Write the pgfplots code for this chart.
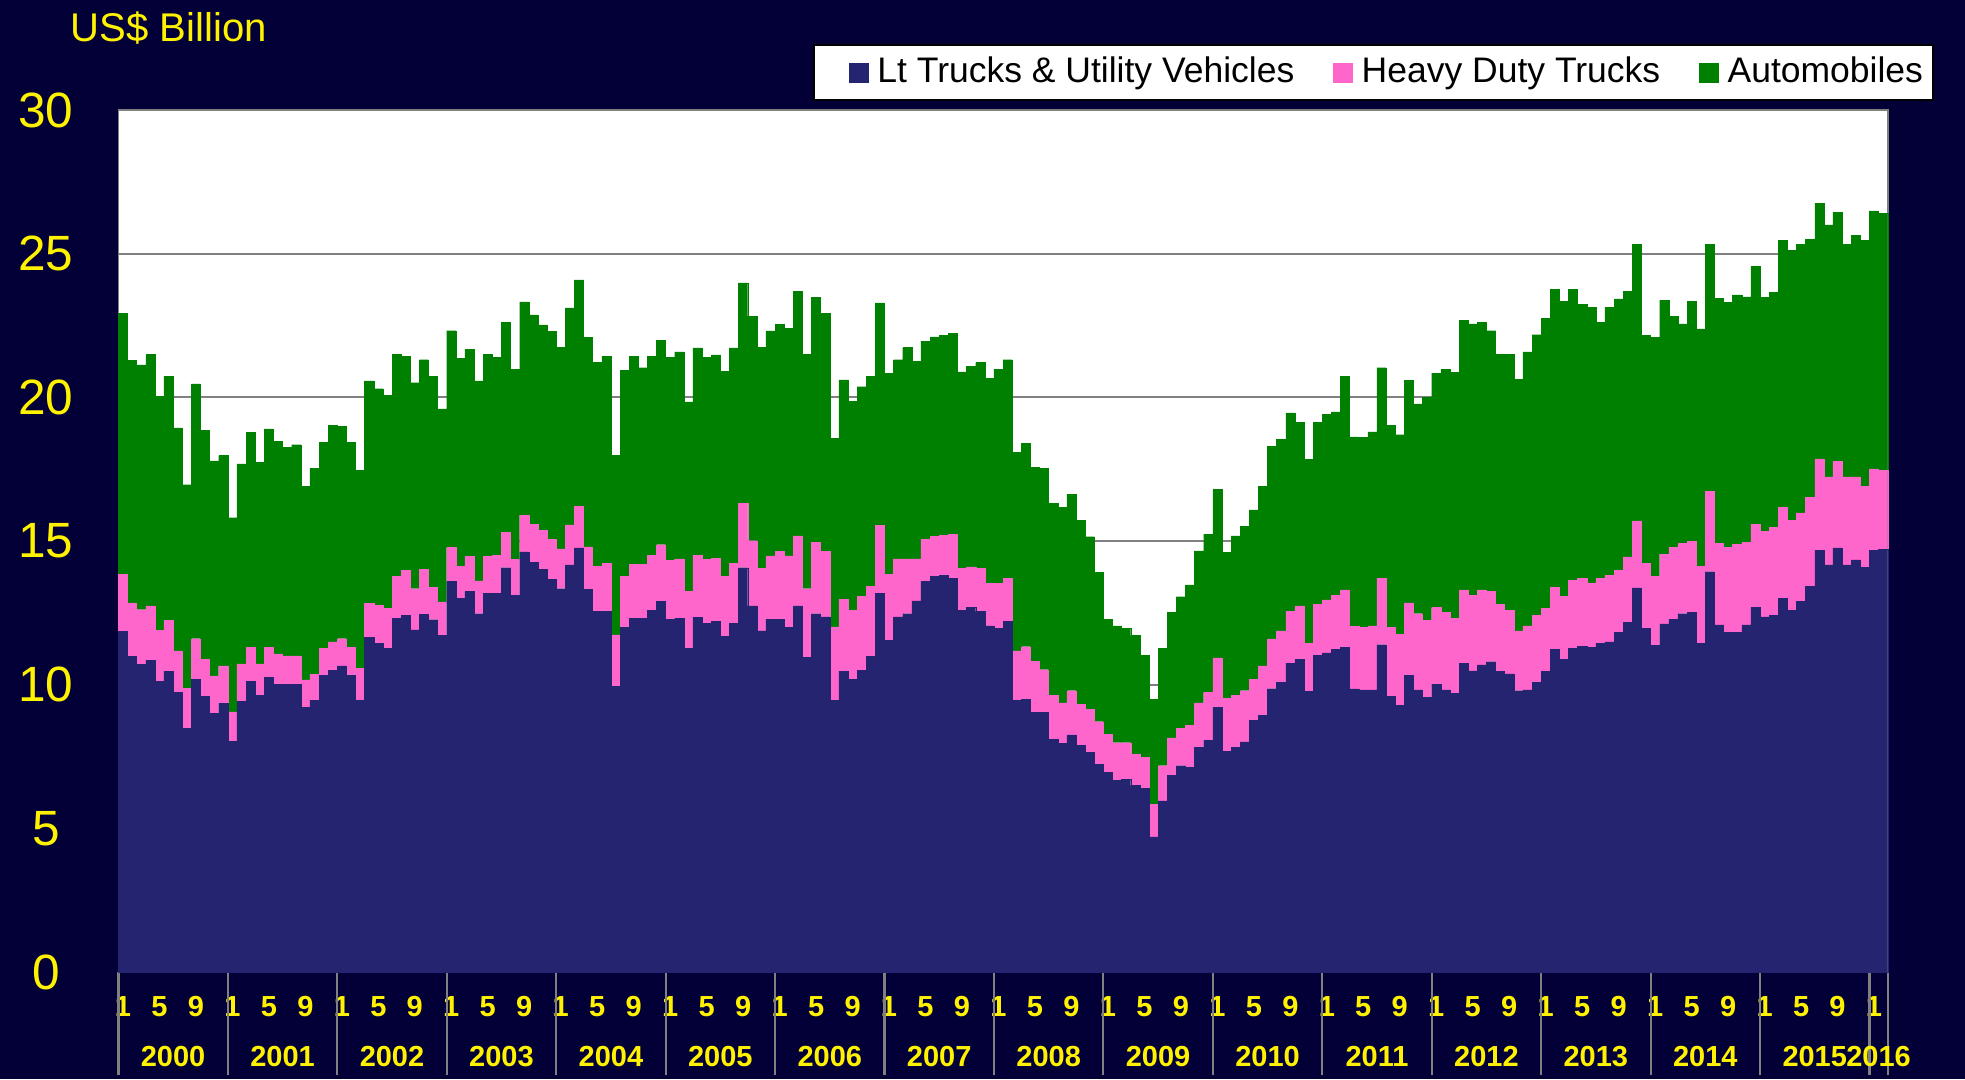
\documentclass[border=0pt]{standalone}
\usepackage{fontspec}
\setmainfont{Liberation Sans}
\usepackage{pgfplots}
\pgfplotsset{compat=1.18}
\usepackage{pgfplotstable}
\definecolor{bg}{RGB}{3,0,56}
\definecolor{ltnavy}{RGB}{36,36,112}
\definecolor{hdpink}{RGB}{255,102,204}
\definecolor{autogreen}{RGB}{0,128,0}
\definecolor{gridgray}{RGB}{128,128,128}
\pgfplotsset{mylegend/.style={legend image code/.code={\fill[##1] (0mm,-0.95mm) rectangle (1.9mm,0.95mm);}},
  myfirstlegend/.style={legend image code/.code={\path (0mm,0mm); \fill[##1] (3.2mm,-0.95mm) rectangle (5.1mm,0.95mm);}}}

% m = month index (0 = Jan 2000), lt = Lt Trucks & Utility Vehicles, hd = Heavy Duty Trucks, au = Automobiles (US$ bn)
\pgfplotstableread{
m lt hd au
0 11.85 1.99 9.08
1 10.98 1.87 8.43
2 10.71 1.90 8.52
3 10.84 1.90 8.75
4 10.11 1.79 8.13
5 10.47 1.76 8.51
6 9.73 1.45 7.76
7 8.48 1.40 7.08
8 10.18 1.42 8.87
9 9.59 1.30 7.97
10 9.01 1.30 7.48
11 9.35 1.30 7.32
12 8.03 1.02 6.76
13 9.41 1.31 6.96
14 10.11 1.20 7.48
15 9.64 1.08 7.02
16 10.26 1.05 7.59
17 10.02 1.05 7.41
18 10.02 0.98 7.26
19 10.02 0.98 7.35
20 9.22 0.95 6.73
21 9.46 0.89 7.17
22 10.33 0.93 7.17
23 10.51 0.98 7.53
24 10.65 0.95 7.38
25 10.33 0.98 7.12
26 9.46 1.11 6.90
27 11.64 1.20 7.73
28 11.45 1.30 7.55
29 11.27 1.39 7.41
30 12.32 1.45 7.73
31 12.41 1.58 7.44
32 11.91 1.43 7.17
33 12.45 1.57 7.29
34 12.26 1.13 7.35
35 11.72 1.16 6.72
36 13.60 1.17 7.55
37 13.01 1.11 7.23
38 13.24 1.22 7.21
39 12.47 1.14 6.96
40 13.19 1.27 7.03
41 13.19 1.31 6.90
42 14.07 1.22 7.32
43 13.12 1.25 6.61
44 14.62 1.28 7.42
45 14.26 1.31 7.30
46 14.02 1.36 7.14
47 13.66 1.39 7.24
48 13.34 1.39 7.00
49 14.17 1.39 7.55
50 14.76 1.45 7.88
51 13.31 1.49 7.29
52 12.55 1.58 7.08
53 12.55 1.67 7.21
54 9.94 1.79 6.25
55 11.99 1.78 7.17
56 12.32 1.87 7.24
57 12.32 1.87 6.84
58 12.59 1.91 6.93
59 12.91 1.96 7.12
60 12.27 2.05 7.08
61 12.32 2.06 7.20
62 11.27 1.99 6.58
63 12.35 2.14 7.23
64 12.14 2.23 7.03
65 12.21 2.18 7.09
66 11.69 2.09 7.12
67 12.14 2.08 7.50
68 14.07 2.23 7.68
69 12.74 2.27 7.82
70 11.87 2.17 7.70
71 12.27 2.21 7.83
72 12.27 2.36 7.91
73 12.00 2.48 7.92
74 12.74 2.44 8.52
75 10.95 2.39 8.15
76 12.47 2.48 8.52
77 12.36 2.29 8.27
78 9.46 2.55 6.57
79 10.47 2.50 7.64
80 10.18 2.41 7.27
81 10.51 2.56 7.30
82 10.98 2.44 7.32
83 13.19 2.36 7.74
84 11.54 2.30 7.00
85 12.36 2.02 6.93
86 12.47 1.91 7.35
87 12.92 1.46 6.88
88 13.60 1.46 6.90
89 13.77 1.39 6.94
90 13.80 1.39 6.97
91 13.70 1.54 6.99
92 12.59 1.45 6.85
93 12.68 1.42 6.97
94 12.55 1.49 7.17
95 12.05 1.48 7.12
96 11.96 1.57 7.45
97 12.21 1.49 7.61
98 9.46 1.72 6.90
99 9.50 1.82 7.08
100 9.04 1.78 6.75
101 9.04 1.48 7.00
102 8.10 1.54 6.67
103 7.97 1.40 6.81
104 8.25 1.54 6.84
105 7.89 1.42 6.40
106 7.65 1.48 6.02
107 7.23 1.48 5.20
108 6.96 1.30 4.02
109 6.67 1.31 4.07
110 6.70 1.28 3.98
111 6.49 1.08 4.14
112 6.39 1.07 3.57
113 4.70 1.14 3.64
114 5.96 1.22 4.08
115 6.85 1.30 4.37
116 7.18 1.30 4.58
117 7.12 1.46 4.89
118 7.83 1.54 5.29
119 8.06 1.67 5.51
120 9.20 1.73 5.87
121 7.68 1.84 5.08
122 7.83 1.81 5.54
123 8.01 1.78 5.72
124 8.77 1.42 5.89
125 8.93 1.72 6.25
126 9.86 1.73 6.70
127 10.09 1.78 6.66
128 10.75 1.81 6.90
129 10.87 1.87 6.39
130 9.76 1.69 6.39
131 11.02 1.78 6.33
132 11.11 1.84 6.45
133 11.22 1.90 6.37
134 11.30 2.00 7.44
135 9.85 2.17 6.60
136 9.82 2.18 6.61
137 9.82 2.23 6.75
138 11.39 2.32 7.32
139 9.59 2.41 7.02
140 9.28 2.48 6.94
141 10.33 2.52 7.73
142 9.82 2.65 7.30
143 9.56 2.68 7.77
144 10.00 2.68 8.16
145 9.82 2.70 8.45
146 9.70 2.62 8.54
147 10.74 2.56 9.38
148 10.48 2.64 9.44
149 10.69 2.61 9.31
150 10.80 2.45 9.07
151 10.47 2.33 8.69
152 10.38 2.21 8.90
153 9.79 2.08 8.75
154 9.82 2.23 9.53
155 10.09 2.33 9.76
156 10.47 2.18 10.09
157 11.22 2.17 10.38
158 10.87 2.20 10.27
159 11.27 2.36 10.14
160 11.34 2.36 9.53
161 11.30 2.24 9.59
162 11.43 2.27 8.90
163 11.49 2.32 9.32
164 11.81 2.18 9.44
165 12.18 2.27 9.25
166 13.37 2.33 9.62
167 11.96 2.27 7.92
168 11.36 2.42 8.31
169 12.12 2.42 8.84
170 12.27 2.50 8.06
171 12.47 2.44 7.65
172 12.52 2.48 8.34
173 11.45 2.68 8.25
174 13.93 2.80 8.60
175 12.08 2.85 8.51
176 11.81 2.98 8.51
177 11.81 3.07 8.69
178 12.08 2.88 8.54
179 12.68 2.89 8.98
180 12.36 2.98 8.15
181 12.41 3.07 8.18
182 13.01 3.15 9.31
183 12.59 3.12 9.41
184 12.91 3.07 9.35
185 13.43 3.09 8.99
186 14.68 3.18 8.90
187 14.17 3.06 8.77
188 14.76 3.01 8.67
189 14.17 3.06 8.10
190 14.34 2.89 8.40
191 14.08 2.83 8.55
192 14.68 2.83 8.98
193 14.71 2.74 8.95
}\datatable

\begin{document}
\begin{tikzpicture}
\fill[bg] (0,0) rectangle (196.5mm,107.9mm);
\node[anchor=base west, text=yellow, font=\fontsize{11.4}{13}\selectfont, inner sep=0pt] at (7.0mm,103.7mm) {US\$ Billion};
\begin{axis}[
  at={(11.84mm,10.7mm)}, anchor=south west,
  scale only axis, width=176.93mm, height=86.2mm,
  xmin=-0.5, xmax=193.5, ymin=0, ymax=30,
  enlargelimits=false, clip=false,
  ybar stacked, bar width=1,
  axis background/.style={fill=white},
  axis line style={gridgray, line width=0.5pt},
  ytick={0,5,...,30},
  ymajorgrids, grid style={gridgray, line width=0.5pt},
  major tick length=0pt,
  tick pos=left,
  /pgf/number format/assume math mode=true,
  yticklabel style={text=yellow, font=\fontsize{14.1}{16}\selectfont, anchor=center, xshift=-7.26mm},
  xtick={0,4,8,12,16,20,24,28,32,36,40,44,48,52,56,60,64,68,72,76,80,84,88,92,96,100,104,108,112,116,120,124,128,132,136,140,144,148,152,156,160,164,168,172,176,180,184,188,192},
  xticklabels={1,5,9,1,5,9,1,5,9,1,5,9,1,5,9,1,5,9,1,5,9,1,5,9,1,5,9,1,5,9,1,5,9,1,5,9,1,5,9,1,5,9,1,5,9,1,5,9,1},
  xticklabel style={text=yellow, font=\bfseries\fontsize{8.25}{10}\selectfont, anchor=center, yshift=-3.47mm},
  extra x ticks={-0.49,11.5,23.5,35.5,47.5,59.5,71.5,83.5,95.5,107.5,119.5,131.5,143.5,155.5,167.5,179.5,191.5,193.49},
  extra x tick labels={},
  extra x tick style={major tick length=10.3mm, tick align=outside, tick style={gridgray, line width=0.6pt}},
  legend columns=3,
  legend cell align=left,
  legend style={at={(1.0262,1.0767)}, anchor=north east, draw=black, fill=white, line width=0.6pt,
    font=\fontsize{10.1}{12}\selectfont, text=black, inner xsep=0.3mm, inner ysep=0.5mm,
    /tikz/every odd column/.append style={column sep=0.2mm},
    /tikz/every even column/.append style={column sep=3.2mm}},
]
\addplot[fill=ltnavy, draw=ltnavy, line width=0.1pt, myfirstlegend] table[x=m, y=lt] {\datatable};
\addplot[fill=hdpink, draw=hdpink, line width=0.1pt, mylegend] table[x=m, y=hd] {\datatable};
\addplot[fill=autogreen, draw=autogreen, line width=0.1pt, mylegend] table[x=m, y=au] {\datatable};
\legend{Lt Trucks \& Utility Vehicles, Heavy Duty Trucks, Automobiles}
\node[text=yellow, font=\bfseries\fontsize{8.25}{10}\selectfont, anchor=center, yshift=-8.47mm] at (axis cs:5.5,0) {2000};
\node[text=yellow, font=\bfseries\fontsize{8.25}{10}\selectfont, anchor=center, yshift=-8.47mm] at (axis cs:17.5,0) {2001};
\node[text=yellow, font=\bfseries\fontsize{8.25}{10}\selectfont, anchor=center, yshift=-8.47mm] at (axis cs:29.5,0) {2002};
\node[text=yellow, font=\bfseries\fontsize{8.25}{10}\selectfont, anchor=center, yshift=-8.47mm] at (axis cs:41.5,0) {2003};
\node[text=yellow, font=\bfseries\fontsize{8.25}{10}\selectfont, anchor=center, yshift=-8.47mm] at (axis cs:53.5,0) {2004};
\node[text=yellow, font=\bfseries\fontsize{8.25}{10}\selectfont, anchor=center, yshift=-8.47mm] at (axis cs:65.5,0) {2005};
\node[text=yellow, font=\bfseries\fontsize{8.25}{10}\selectfont, anchor=center, yshift=-8.47mm] at (axis cs:77.5,0) {2006};
\node[text=yellow, font=\bfseries\fontsize{8.25}{10}\selectfont, anchor=center, yshift=-8.47mm] at (axis cs:89.5,0) {2007};
\node[text=yellow, font=\bfseries\fontsize{8.25}{10}\selectfont, anchor=center, yshift=-8.47mm] at (axis cs:101.5,0) {2008};
\node[text=yellow, font=\bfseries\fontsize{8.25}{10}\selectfont, anchor=center, yshift=-8.47mm] at (axis cs:113.5,0) {2009};
\node[text=yellow, font=\bfseries\fontsize{8.25}{10}\selectfont, anchor=center, yshift=-8.47mm] at (axis cs:125.5,0) {2010};
\node[text=yellow, font=\bfseries\fontsize{8.25}{10}\selectfont, anchor=center, yshift=-8.47mm] at (axis cs:137.5,0) {2011};
\node[text=yellow, font=\bfseries\fontsize{8.25}{10}\selectfont, anchor=center, yshift=-8.47mm] at (axis cs:149.5,0) {2012};
\node[text=yellow, font=\bfseries\fontsize{8.25}{10}\selectfont, anchor=center, yshift=-8.47mm] at (axis cs:161.5,0) {2013};
\node[text=yellow, font=\bfseries\fontsize{8.25}{10}\selectfont, anchor=center, yshift=-8.47mm] at (axis cs:173.5,0) {2014};
\node[text=yellow, font=\bfseries\fontsize{8.25}{10}\selectfont, anchor=center, yshift=-8.47mm] at (axis cs:185.5,0) {2015};
\node[text=yellow, font=\bfseries\fontsize{8.25}{10}\selectfont, anchor=center, yshift=-8.47mm] at (axis cs:192.5,0) {2016};
\end{axis}
\pgfresetboundingbox
\useasboundingbox (0,0) rectangle (196.5mm,107.9mm);
\end{tikzpicture}
\end{document}
